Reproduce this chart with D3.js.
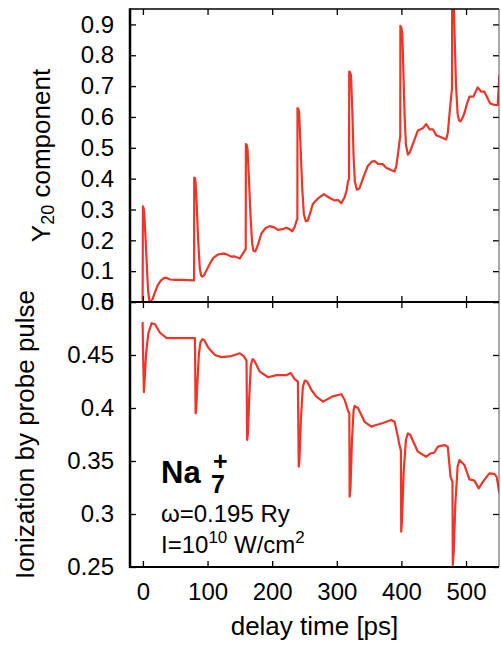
<!DOCTYPE html>
<html lang="en">
<head>
<meta charset="UTF-8">
<title>Na7+ Y20 and ionization vs delay</title>
<script src="https://d3js.org/d3.v7.min.js"></script>
<style>
  body { margin: 0; background: #fff; }
  text { font-family: "Liberation Sans", Arial, Helvetica, sans-serif; fill: #000; }
  .tick line { stroke: #000; stroke-width: 1.3; }
  .curve { fill: none; stroke: #ee3528; stroke-width: 2.2; stroke-linejoin: round; }
</style>
</head>
<body>
<svg id="chart" width="501" height="648"></svg>
<script>
// delay times in ps shared by the x axis
const xTicks = [0, 100, 200, 300, 400, 500];
const topTicks = [0, 0.1, 0.2, 0.3, 0.4, 0.5, 0.6, 0.7, 0.8, 0.9];
const bottomTicks = [0.25, 0.3, 0.35, 0.4, 0.45, 0.5];

// upper panel: Y20 component
const topTime = [
  -0.5, 0, 1, 2, 4, 6, 8, 10, 12, 15, 18, 23, 28, 33, 37, 42, 50, 60, 70, 79.2,
  79.4, 80.5, 81.5, 83, 85.5, 88, 90, 92, 95, 99, 104, 109, 116, 124, 128, 132, 137, 141, 144, 150, 154, 157, 159.1,
  159.3, 160.5, 161.8, 164, 166.5, 169, 171, 174, 178, 183.5, 190, 196, 204, 209, 216, 222, 227, 231, 235, 237.5, 239,
  239.2, 240.5, 241.8, 244, 246.5, 249, 252, 255, 259, 263, 271, 280, 286, 292, 297, 302, 307, 312, 315, 317.3, 319,
  319.2, 320.5, 322, 324, 326, 328, 331, 335, 340.5, 348, 354, 358.5, 364, 371, 376.5, 384, 389.4, 392, 394.5, 397, 398.2,
  398.4, 399.8, 401.4, 403, 405, 407, 410, 413, 417.7, 425.4, 433, 438.4, 443.5, 448.6, 453.7, 461.5, 469.2, 471.7, 475.4, 478.3,
  478.5, 479.5, 481, 482.5, 484.5, 487, 489, 491.3, 494, 497.5, 501, 505.3, 511.4, 518, 523.3, 528.4, 533.5, 537.2, 543.9, 549, 551.5
];
const topY20 = [
  -0.01, 0.31, 0.305, 0.29, 0.21, 0.12, 0.035, 0.004, 0.0, 0.01, 0.028, 0.055, 0.07, 0.078, 0.078, 0.073, 0.072, 0.072, 0.071, 0.07,
  0.403, 0.402, 0.39, 0.33, 0.2, 0.11, 0.086, 0.082, 0.088, 0.105, 0.126, 0.143, 0.154, 0.157, 0.156, 0.152, 0.147, 0.148, 0.146, 0.141, 0.155, 0.165, 0.172,
  0.512, 0.51, 0.498, 0.4, 0.28, 0.19, 0.166, 0.164, 0.185, 0.223, 0.24, 0.246, 0.241, 0.234, 0.236, 0.241, 0.236, 0.229, 0.244, 0.262, 0.268,
  0.629, 0.625, 0.612, 0.5, 0.37, 0.285, 0.262, 0.264, 0.29, 0.318, 0.336, 0.35, 0.341, 0.334, 0.329, 0.331, 0.32, 0.34, 0.36, 0.39, 0.4,
  0.747, 0.745, 0.735, 0.62, 0.47, 0.39, 0.364, 0.368, 0.401, 0.441, 0.455, 0.457, 0.448, 0.447, 0.435, 0.428, 0.423, 0.44, 0.477, 0.52, 0.536,
  0.895, 0.89, 0.871, 0.75, 0.6, 0.51, 0.478, 0.485, 0.512, 0.556, 0.563, 0.577, 0.56, 0.56, 0.541, 0.534, 0.527, 0.547, 0.633, 0.693,
  1.02, 1.02, 0.98, 0.85, 0.7, 0.61, 0.59, 0.585, 0.595, 0.612, 0.64, 0.666, 0.666, 0.696, 0.682, 0.682, 0.66, 0.644, 0.639, 0.638, 0.735
];

// lower panel: ionization by probe pulse
const bottomTime = [
  -0.5, 0.3, 1.5, 3, 5, 8.4, 13.5, 18.7, 26.4, 36.7, 50, 65, 80.5,
  81.5, 82.5, 84, 86.5, 89, 92, 95, 101, 111.4, 121.7, 137, 150, 156, 160.3,
  161.3, 162.5, 164.5, 167, 169.6, 172, 180.9, 193.7, 206.6, 222, 228.7, 235, 239.8,
  241.1, 242.3, 244.5, 247.5, 250.4, 254, 260.7, 268.4, 278.7, 294, 307, 312, 317.3, 319.4,
  319.9, 321.2, 323.5, 326, 327.6, 332.8, 343, 353.4, 361, 371.4, 384.2, 389.4, 394.5, 397, 399.2,
  399.7, 401, 403.5, 407, 410, 413.6, 425.4, 438.4, 444.5, 451, 456.3, 466.6, 471.7, 476, 479,
  479.5, 481, 483.5, 487, 489.8, 497.5, 505.3, 513, 519.6, 525.8, 536, 543.8, 547.4, 551.6
];
const bottomIon = [
  0.481, 0.45, 0.415, 0.43, 0.452, 0.4705, 0.48, 0.479, 0.471, 0.466, 0.466, 0.466, 0.466,
  0.395, 0.398, 0.42, 0.45, 0.462, 0.465, 0.464, 0.457, 0.45, 0.448, 0.449, 0.4516, 0.449, 0.4447,
  0.37, 0.376, 0.41, 0.44, 0.4462, 0.445, 0.4343, 0.429, 0.431, 0.431, 0.433, 0.427, 0.425,
  0.3447, 0.352, 0.39, 0.42, 0.4258, 0.425, 0.417, 0.4107, 0.406, 0.411, 0.413, 0.408, 0.3975, 0.395,
  0.3163, 0.325, 0.37, 0.398, 0.4019, 0.4, 0.387, 0.3824, 0.384, 0.3858, 0.3887, 0.387, 0.373, 0.365, 0.36,
  0.2833, 0.295, 0.34, 0.37, 0.3761, 0.3747, 0.3588, 0.354, 0.357, 0.358, 0.3635, 0.365, 0.3635, 0.3352, 0.33,
  0.2519, 0.265, 0.31, 0.345, 0.351, 0.3462, 0.3327, 0.3315, 0.3242, 0.33, 0.3384, 0.3378, 0.335, 0.3195
];

const svg = d3.select("#chart");
const pL = 130, pR = 499, pT = 9, pM = 302, pB = 567;

const x = d3.scaleLinear().domain([-20, 551]).range([pL, pR]);
const yTop = d3.scaleLinear().domain([0, 0.95]).range([pM, pT]);
const yBot = d3.scaleLinear().domain([0.25, 0.5]).range([pB, pM]);

// clip each panel
const defs = svg.append("defs");
defs.append("clipPath").attr("id", "clipTop").append("rect")
  .attr("x", pL).attr("y", pT).attr("width", pR - pL).attr("height", pM - pT);
defs.append("clipPath").attr("id", "clipBot").append("rect")
  .attr("x", pL).attr("y", pM).attr("width", pR - pL).attr("height", pB - pM);

const line = (ys) => d3.line().x(d => x(d[0])).y(d => ys(d[1]));

svg.append("path")
  .attr("class", "curve")
  .attr("clip-path", "url(#clipTop)")
  .attr("d", line(yTop)(topTime.map((t, i) => [t, topY20[i]])));

svg.append("path")
  .attr("class", "curve")
  .attr("clip-path", "url(#clipBot)")
  .attr("d", line(yBot)(bottomTime.map((t, i) => [t, bottomIon[i]])));

// axes, ticks pointing inward
function noDomain(g) { g.select(".domain").remove(); }
const fs = "24px";

// left axis of top panel
svg.append("g").attr("transform", `translate(${pL},0)`)
  .call(d3.axisLeft(yTop).tickValues(topTicks).tickSizeInner(-6).tickSizeOuter(0).tickPadding(16)
    .tickFormat(d => d === 0 ? "0" : d3.format(".1f")(d)))
  .call(noDomain)
  .selectAll("text").style("font-size", fs);
svg.append("g").attr("transform", `translate(${pR},0)`)
  .call(d3.axisRight(yTop).tickValues(topTicks).tickSizeInner(-6).tickSizeOuter(0).tickFormat(""))
  .call(noDomain);

// left axis of bottom panel
svg.append("g").attr("transform", `translate(${pL},0)`)
  .call(d3.axisLeft(yBot).tickValues(bottomTicks).tickSizeInner(-6).tickSizeOuter(0).tickPadding(16)
    .tickFormat(d => String(d)))
  .call(noDomain)
  .selectAll("text").style("font-size", fs);
svg.append("g").attr("transform", `translate(${pR},0)`)
  .call(d3.axisRight(yBot).tickValues(bottomTicks).tickSizeInner(-6).tickSizeOuter(0).tickFormat(""))
  .call(noDomain);

// x ticks: top of top panel, both sides of the divider, and bottom with labels
svg.append("g").attr("transform", `translate(0,${pT})`)
  .call(d3.axisTop(x).tickValues(xTicks).tickSizeInner(-6).tickSizeOuter(0).tickFormat(""))
  .call(noDomain);
svg.append("g").attr("transform", `translate(0,${pM})`)
  .call(d3.axisBottom(x).tickValues(xTicks).tickSizeInner(-6).tickSizeOuter(0).tickFormat(""))
  .call(noDomain);
svg.append("g").attr("transform", `translate(0,${pM})`)
  .call(d3.axisTop(x).tickValues(xTicks).tickSizeInner(-6).tickSizeOuter(0).tickFormat(""))
  .call(noDomain);
svg.append("g").attr("transform", `translate(0,${pB})`)
  .call(d3.axisBottom(x).tickValues(xTicks).tickSizeInner(-6).tickSizeOuter(0).tickPadding(16))
  .call(noDomain)
  .selectAll("text").style("font-size", fs);

// frame
svg.append("line").attr("x1", pL).attr("x2", pR).attr("y1", pT).attr("y2", pT)
  .attr("stroke", "#000").attr("stroke-width", 1.5);
svg.append("line").attr("x1", pR).attr("x2", pR).attr("y1", pT).attr("y2", pB)
  .attr("stroke", "#555").attr("stroke-width", 1);
svg.append("line").attr("x1", pL).attr("x2", pR).attr("y1", pM).attr("y2", pM)
  .attr("stroke", "#000").attr("stroke-width", 2);
svg.append("line").attr("x1", pL).attr("x2", pR).attr("y1", pB).attr("y2", pB)
  .attr("stroke", "#000").attr("stroke-width", 2.2);
svg.append("line").attr("x1", pL).attr("x2", pL).attr("y1", pT - 0.75).attr("y2", pB + 1.1)
  .attr("stroke", "#000").attr("stroke-width", 2.5);

// axis titles
svg.append("text")
  .attr("x", (pL + pR) / 2).attr("y", 635)
  .attr("text-anchor", "middle").style("font-size", "26px")
  .text("delay time [ps]");

const yt = svg.append("text")
  .attr("transform", `translate(50,${(pT + pM) / 2}) rotate(-90)`)
  .attr("text-anchor", "middle").style("font-size", "26px");
yt.append("tspan").text("Y");
yt.append("tspan").attr("dy", 4).style("font-size", "18px").text("20");
yt.append("tspan").attr("dy", -4).text(" component");

svg.append("text")
  .attr("transform", `translate(34,${(pM + pB) / 2}) rotate(-90)`)
  .attr("text-anchor", "middle").style("font-size", "26px")
  .text("Ionization by probe pulse");

// annotation
svg.append("text").attr("x", 161).attr("y", 483)
  .style("font-size", "31px").style("font-weight", "bold").text("Na");
svg.append("text").attr("x", 211).attr("y", 493)
  .style("font-size", "25px").style("font-weight", "bold").text("7");
svg.append("text").attr("x", 213).attr("y", 470)
  .style("font-size", "25px").style("font-weight", "bold").text("+");

svg.append("text").attr("x", 161).attr("y", 522)
  .style("font-size", "24px").text("\u03c9=0.195 Ry");

const it = svg.append("text").attr("x", 161).attr("y", 553).style("font-size", "24px");
it.append("tspan").text("I=10");
it.append("tspan").attr("dy", -10).style("font-size", "17px").text("10");
it.append("tspan").attr("dy", 10).text(" W/cm");
it.append("tspan").attr("dy", -10).style("font-size", "17px").text("2");
</script>
</body>
</html>
